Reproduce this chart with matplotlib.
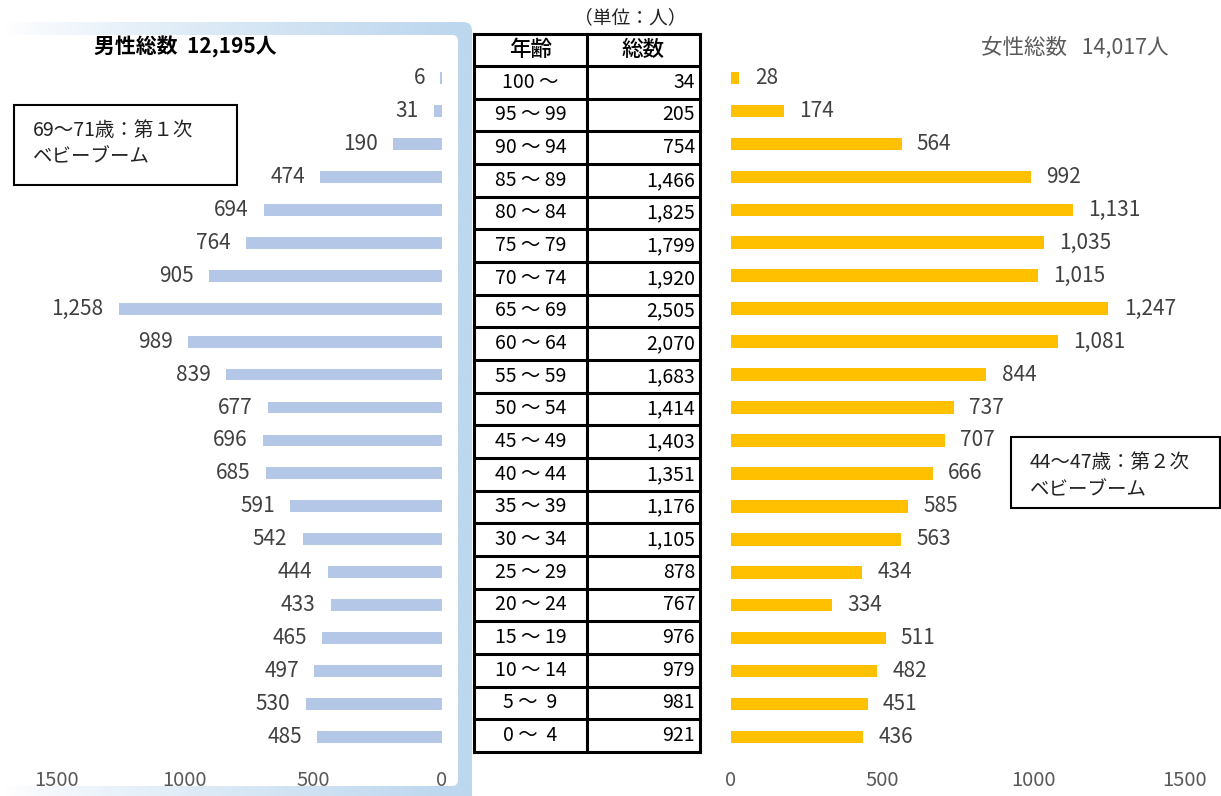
import numpy as np
import matplotlib
matplotlib.use("Agg")
import matplotlib.pyplot as plt
from matplotlib.patches import FancyBboxPatch, Rectangle

plt.rcParams['font.family'] = ['Noto Sans CJK JP', 'DejaVu Sans']

# 年齢階級（上から）
ages = ["100 ～", "95 ～ 99", "90 ～ 94", "85 ～ 89", "80 ～ 84", "75 ～ 79",
        "70 ～ 74", "65 ～ 69", "60 ～ 64", "55 ～ 59", "50 ～ 54", "45 ～ 49",
        "40 ～ 44", "35 ～ 39", "30 ～ 34", "25 ～ 29", "20 ～ 24", "15 ～ 19",
        "10 ～ 14", "5 ～  9", "0 ～  4"]
male = [6, 31, 190, 474, 694, 764, 905, 1258, 989, 839, 677, 696, 685,
        591, 542, 444, 433, 465, 497, 530, 485]
female = [28, 174, 564, 992, 1131, 1035, 1015, 1247, 1081, 844, 737, 707,
          666, 585, 563, 434, 334, 511, 482, 451, 436]
total = [34, 205, 754, 1466, 1825, 1799, 1920, 2505, 2070, 1683, 1414, 1403,
         1351, 1176, 1105, 878, 767, 976, 979, 981, 921]
male_total = "男性総数  12,195人"
female_total = "女性総数   14,017人"
xticks = [0, 500, 1000, 1500]

W, H = 1221, 796
fig = plt.figure(figsize=(W / 100, H / 100), dpi=100)

# 背景用の軸（ピクセル座標）
bg = fig.add_axes([0, 0, 1, 1])
bg.set_xlim(0, W)
bg.set_ylim(H, 0)
bg.axis("off")

# 男性側の青い枠（グラデーション）
frame_blue = np.array([189, 215, 238]) / 255
xs = np.linspace(0, 472, 473)
t = np.clip((xs - 5) / 450, 0, 1) ** 0.8
grad = (1 - t)[:, None] * np.ones(3) + t[:, None] * frame_blue
img = bg.imshow(grad[None, :, :], extent=(0, 472, H + 10, 22), aspect="auto",
                zorder=0, interpolation="bilinear")
outer = FancyBboxPatch((-30, 22), 502, H + 20, boxstyle="round,pad=0,rounding_size=9",
                       transform=bg.transData, facecolor="none", edgecolor="none")
bg.add_patch(outer)
img.set_clip_path(outer)
bg.add_patch(FancyBboxPatch((-30, 35), 488, 751, boxstyle="round,pad=0,rounding_size=6",
                            facecolor="white", edgecolor="none", zorder=1))

# 中央の表
tx0, tx1, tx2 = 474, 587, 700
ty0, ty1 = 34, 66
rh = (752 - ty1) / len(ages)
ty_end = ty1 + rh * len(ages)
lw = 2.2
for yy in [ty0, ty1] + [ty1 + rh * (i + 1) for i in range(len(ages))]:
    bg.plot([tx0, tx2], [yy, yy], color="black", lw=lw, zorder=3, solid_capstyle="projecting")
for xx in [tx0, tx1, tx2]:
    bg.plot([xx, xx], [ty0, ty_end], color="black", lw=lw, zorder=3, solid_capstyle="projecting")
bg.text((tx0 + tx1) / 2, (ty0 + ty1) / 2, "年齢", ha="center", va="center",
        fontsize=15.5, fontweight="medium", color="black", zorder=4)
bg.text((tx1 + tx2) / 2, (ty0 + ty1) / 2, "総数", ha="center", va="center",
        fontsize=15.5, fontweight="medium", color="black", zorder=4)
for i, (a, v) in enumerate(zip(ages, total)):
    cy = ty1 + rh * (i + 0.5)
    bg.text((tx0 + tx1) / 2, cy, a, ha="center", va="center", fontsize=14,
            color="black", zorder=4)
    bg.text(tx2 - 5, cy, f"{v:,}", ha="right", va="center", fontsize=14,
            color="black", zorder=4)
bg.text(630, 18, "（単位：人）", ha="center", va="center", fontsize=13.5, color="#222222")

# 注記ボックス
bg.add_patch(Rectangle((14, 105), 223, 80, facecolor="white", edgecolor="black", lw=1.5, zorder=3))
bg.text(33, 131, "69～71歳：第１次", ha="left", va="center", fontsize=14, color="#222222", zorder=4)
bg.text(33, 157, "ベビーブーム", ha="left", va="center", fontsize=14, color="#222222", zorder=4)
bg.add_patch(Rectangle((1011, 437), 209, 71, facecolor="white", edgecolor="black", lw=1.5, zorder=3))
bg.text(1030, 462, "44～47歳：第２次", ha="left", va="center", fontsize=14, color="#222222", zorder=4)
bg.text(1030, 490, "ベビーブーム", ha="left", va="center", fontsize=14, color="#222222", zorder=4)

# タイトル
bg.text(185, 47, male_total, ha="center", va="center", fontsize=15,
        fontweight="bold", color="black", zorder=4)
bg.text(1075, 48, female_total, ha="center", va="center", fontsize=15.5,
        color="#595959", zorder=4)

# 棒グラフ
y = np.arange(len(ages))
ax_top, ax_bot = 61.5, 753.5
axh = (ax_bot - ax_top) / H
axb = (H - ax_bot) / H

axL = fig.add_axes([56.5 / W, axb, (442 - 56.5) / W, axh])
axR = fig.add_axes([731 / W, axb, (1185 - 731) / W, axh])

axL.barh(y, male, height=0.36, color="#B4C7E7")
axR.barh(y, female, height=0.38, color="#FFC000")
axL.set_xlim(1500, 0)
axR.set_xlim(0, 1500)

for ax in (axL, axR):
    ax.set_ylim(len(ages) - 0.5, -0.5)
    ax.patch.set_alpha(0)
    for s in ax.spines.values():
        s.set_visible(False)
    ax.set_yticks([])
    ax.set_xticks(xticks)
    ax.tick_params(axis="x", length=0, pad=12, labelsize=14.5, labelcolor="#595959")

for i, v in enumerate(male):
    axL.annotate(f"{v:,}", xy=(v, i), xytext=(-11, 0), textcoords="offset points",
                 ha="right", va="center", fontsize=15, color="#404040")
for i, v in enumerate(female):
    axR.annotate(f"{v:,}", xy=(v, i), xytext=(11, 0), textcoords="offset points",
                 ha="left", va="center", fontsize=15, color="#404040")

fig.savefig("out.png", dpi=100)
